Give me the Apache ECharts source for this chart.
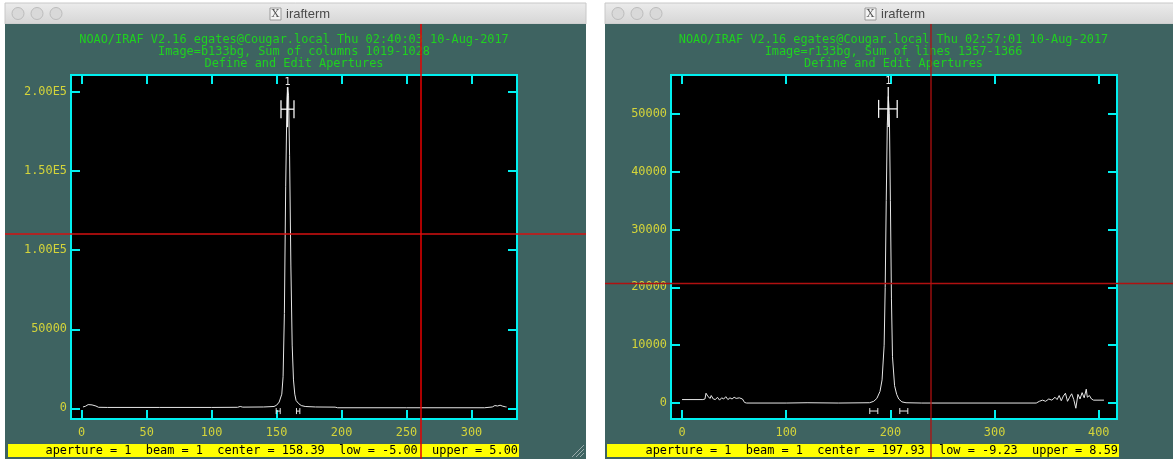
<!DOCTYPE html>
<html><head><meta charset="utf-8">
<script src="https://cdn.jsdelivr.net/npm/echarts@6/dist/echarts.min.js"></script>
<style>html,body{margin:0;padding:0;background:#fff}#c{width:1173px;height:459px}</style>
</head><body><div id="c"></div>
<script>
// ---------- data ----------
const leftX = [1,3,5,6,8,9,11,13,20,60,100,120,122,124,140,148,150,152,154,155,156,157,158,158.6,159.2,160,161,162,163,164,165,167,169,172,180,195,197,250,310,316,318,320,322,324,326,327];
const leftY = [900,1400,2400,2700,2200,2900,1500,700,600,600,600,700,1200,800,900,1200,2000,4000,9000,20000,60000,140000,195000,203000,198000,160000,90000,40000,18000,9000,5000,3000,1800,1200,900,800,400,400,400,900,1800,1500,2000,1400,1000,900];
const rightX = [0,20,22,23,25,27,28,30,32,34,36,38,40,42,44,46,48,50,52,55,58,60,62,100,120,150,180,184,187,190,192,194,195,196,197,198,199,200,201,202,204,206,208,211,215,230,340,343,346,349,352,355,358,360,362,364,366,368,370,372,374,376,378,380,382,384,386,388,389,391,393,395,405];
const rightY = [600,600,700,1700,1100,800,1300,700,600,1000,500,900,700,1100,600,900,700,1000,800,900,700,100,0,0,50,0,50,300,800,2000,4000,10000,20000,35000,48000,53000,50000,35000,18000,8000,3000,1500,700,200,50,0,0,300,500,300,700,500,1000,600,1300,400,1200,1700,300,1000,1600,600,-900,1500,700,1800,900,2400,1000,1300,700,500,500];

const leftXTicks = [0,50,100,150,200,250,300];
const leftYTicks = [0,50000,100000,150000,200000];
const leftYLabels = ['0','50000','1.00E5','1.50E5','2.00E5'];
const rightXTicks = [0,100,200,300,400];
const rightYTicks = [0,10000,20000,30000,40000,50000];
const rightYLabels = ['0','10000','20000','30000','40000','50000'];

// apertures: [center, low, upper]
const leftAperture = [158.39, -5.00, 5.00];
const rightAperture = [197.93, -9.23, 8.59];
// background sample regions
const leftBackground = [[149.7, 152.8], [165.3, 167.9]];
const rightBackground = [[180.2, 187.9], [209.0, 216.7]];

const leftTitles = ['NOAO/IRAF V2.16 egates@Cougar.local Thu 02:40:03 10-Aug-2017',
                    'Image=b133bg, Sum of columns 1019-1028',
                    'Define and Edit Apertures'];
const rightTitles = ['NOAO/IRAF V2.16 egates@Cougar.local Thu 02:57:01 10-Aug-2017',
                     'Image=r133bg, Sum of lines 1357-1366',
                     'Define and Edit Apertures'];
const leftStatus = 'aperture = 1  beam = 1  center = 158.39  low = -5.00  upper = 5.00';
const rightStatus = 'aperture = 1  beam = 1  center = 197.93  low = -9.23  upper = 8.59';

// ---------- style ----------
const MONO = "'DejaVu Sans Mono', 'Liberation Mono', monospace";
const TEAL = '#3e6361';
const CYAN = '#00f0f0';
const YEL = '#d4d43a';
const GREEN = '#1fd21f';
const FS = 11.9;

const chart = echarts.init(document.getElementById('c'), null, {renderer: 'canvas'});

function axisPair(gi, xr, yr, xt, yt, yl) {
  const tick = {show: true, inside: true, length: 9, lineStyle: {color: CYAN, width: 2}};
  const line = {show: false, onZero: false};
  return {
    x: [
      {gridIndex: gi, type: 'value', min: xr[0], max: xr[1], position: 'bottom',
       axisLine: line, splitLine: {show: false},
       axisTick: Object.assign({customValues: xt}, tick),
       axisLabel: {customValues: xt, color: YEL, fontFamily: MONO, fontSize: FS, margin: 8}},
      {gridIndex: gi, type: 'value', min: xr[0], max: xr[1], position: 'top',
       axisLine: line, splitLine: {show: false},
       axisTick: Object.assign({customValues: xt}, tick), axisLabel: {show: false}}
    ],
    y: [
      {gridIndex: gi, type: 'value', min: yr[0], max: yr[1], position: 'left',
       axisLine: line, splitLine: {show: false},
       axisTick: Object.assign({customValues: yt}, tick),
       axisLabel: {customValues: yt, color: YEL, fontFamily: MONO, fontSize: FS, margin: 4,
                   formatter: v => yl[yt.indexOf(v)] ?? ''}},
      {gridIndex: gi, type: 'value', min: yr[0], max: yr[1], position: 'right',
       axisLine: line, splitLine: {show: false},
       axisTick: Object.assign({customValues: yt}, tick), axisLabel: {show: false}}
    ]
  };
}

const L = axisPair(0, [-8.2, 335], [-6700, 210700], leftXTicks, leftYTicks, leftYLabels);
const R = axisPair(1, [-10.6, 417.5], [-2760, 56720], rightXTicks, rightYTicks, rightYLabels);

function apertureSeries(xi, yi, ap, barY) {
  return {
    type: 'custom', xAxisIndex: xi, yAxisIndex: yi, z: 5, clip: false,
    data: [ap],
    renderItem: (params, api) => {
      const c = api.value(0), lo = api.value(1), up = api.value(2);
      const p = api.coord([c, barY]);
      const pl = api.coord([c + lo, barY]);
      const pu = api.coord([c + up, barY]);
      const st = {stroke: '#f4f4f4', lineWidth: 1.3};
      return {type: 'group', children: [
        {type: 'line', shape: {x1: p[0], y1: p[1] - 22, x2: p[0], y2: p[1] + 18}, style: st},
        {type: 'line', shape: {x1: pl[0], y1: p[1], x2: pu[0], y2: p[1]}, style: st},
        {type: 'line', shape: {x1: pl[0], y1: p[1] - 9, x2: pl[0], y2: p[1] + 9}, style: st},
        {type: 'line', shape: {x1: pu[0], y1: p[1] - 9, x2: pu[0], y2: p[1] + 9}, style: st},
        {type: 'text', x: p[0], y: p[1] - 22, style: {text: '1', fill: '#e8e8e8', font: '10px ' + MONO, textAlign: 'center', textVerticalAlign: 'bottom'}}
      ]};
    }
  };
}
function bgSeries(xi, yi, regions, y) {
  return {
    type: 'custom', xAxisIndex: xi, yAxisIndex: yi, z: 5, clip: false,
    data: regions,
    renderItem: (params, api) => {
      const a = api.coord([api.value(0), y]);
      const b = api.coord([api.value(1), y]);
      const st = {stroke: '#e8e8e8', lineWidth: 1};
      return {type: 'group', children: [
        {type: 'line', shape: {x1: a[0], y1: a[1], x2: b[0], y2: b[1]}, style: st},
        {type: 'line', shape: {x1: a[0], y1: a[1] - 3, x2: a[0], y2: a[1] + 3}, style: st},
        {type: 'line', shape: {x1: b[0], y1: b[1] - 3, x2: b[0], y2: b[1] + 3}, style: st}
      ]};
    }
  };
}

function windowChrome(x0, x1, cx) {
  const els = [];
  els.push({type: 'rect', shape: {x: x0, y: 3, width: x1 - x0, height: 21},
    style: {fill: new echarts.graphic.LinearGradient(0, 0, 0, 1, [{offset: 0, color: '#ececec'}, {offset: 1, color: '#d5d5d5'}]), stroke: '#c8c8c8', lineWidth: 1}, z: -100});
  els.push({type: 'rect', shape: {x: x0, y: 24, width: x1 - x0, height: 440}, style: {fill: TEAL}, z: -100});
  [13, 32, 51].forEach(dx => els.push({type: 'circle', shape: {cx: x0 + dx, cy: 13.5, r: 6},
    style: {fill: '#d9d9d9', stroke: '#bcbcbc', lineWidth: 1}, z: -99}));
  // X icon
  els.push({type: 'rect', shape: {x: cx - 30, y: 8, width: 11, height: 12}, style: {fill: '#f4f4f4', stroke: '#9a9a9a', lineWidth: 1}, z: -99});
  els.push({type: 'text', x: cx - 24.5, y: 14.5, style: {text: 'X', fill: '#555', font: '11px "DejaVu Serif", serif', textAlign: 'center', textVerticalAlign: 'middle'}, z: -98});
  els.push({type: 'text', x: cx - 14, y: 14, style: {text: 'irafterm', fill: '#4a4a4a', font: '13px "Liberation Sans", Arial, sans-serif', textAlign: 'left', textVerticalAlign: 'middle'}, z: -98});
  return els;
}
function titleLines(lines, cx) {
  return lines.map((t, i) => ({type: 'text', x: cx, y: 40 + i * 12.2, z: 10,
    style: {text: t, fill: GREEN, font: FS + 'px ' + MONO, textAlign: 'center', textVerticalAlign: 'middle'}}));
}
function statusBar(x0, x1, text) {
  return [
    {type: 'rect', shape: {x: x0, y: 444, width: x1 - x0, height: 13}, style: {fill: '#ffff00'}, z: 10},
    {type: 'text', x: x1 - 1, y: 451, z: 11, style: {text: text, fill: '#000', font: FS + 'px ' + MONO, textAlign: 'right', textVerticalAlign: 'middle'}}
  ];
}

const graphics = [].concat(
  windowChrome(5, 586, 300),
  windowChrome(605, 1185, 895),
  titleLines(leftTitles, 294),
  titleLines(rightTitles, 893.5),
  statusBar(8, 519, leftStatus),
  statusBar(607, 1119, rightStatus),
  [
    // resize grip
    {type: 'line', shape: {x1: 572, y1: 457, x2: 584, y2: 445}, style: {stroke: '#9aa', lineWidth: 1}, z: 12},
    {type: 'line', shape: {x1: 576, y1: 457, x2: 584, y2: 449}, style: {stroke: '#9aa', lineWidth: 1}, z: 12},
    {type: 'line', shape: {x1: 580, y1: 457, x2: 584, y2: 453}, style: {stroke: '#9aa', lineWidth: 1}, z: 12},
    // cursor crosshairs
    {type: 'line', shape: {x1: 421, y1: 24, x2: 421, y2: 459}, style: {stroke: '#e80000', lineWidth: 1.5}, z: 50},
    {type: 'line', shape: {x1: 5, y1: 234, x2: 586, y2: 234}, style: {stroke: '#d41010', lineWidth: 1.5}, z: 50},
    {type: 'line', shape: {x1: 931, y1: 24, x2: 931, y2: 459}, style: {stroke: '#b01010', lineWidth: 1.3}, z: 50},
    {type: 'line', shape: {x1: 605, y1: 283.5, x2: 1173, y2: 283.5}, style: {stroke: '#b01010', lineWidth: 1.3}, z: 50}
  ]
);

chart.setOption({
  backgroundColor: '#ffffff',
  animation: false,
  grid: [
    {left: 71, top: 75, width: 446, height: 344, show: true, backgroundColor: '#000', borderColor: CYAN, borderWidth: 2},
    {left: 671, top: 75, width: 446, height: 344, show: true, backgroundColor: '#000', borderColor: CYAN, borderWidth: 2}
  ],
  xAxis: L.x.concat(R.x),
  yAxis: L.y.concat(R.y),
  series: [
    {type: 'line', xAxisIndex: 0, yAxisIndex: 0, showSymbol: false, z: 4,
     lineStyle: {color: '#e6e6e6', width: 1}, data: leftX.map((x, i) => [x, leftY[i]])},
    {type: 'line', xAxisIndex: 2, yAxisIndex: 2, showSymbol: false, z: 4,
     lineStyle: {color: '#e6e6e6', width: 1}, data: rightX.map((x, i) => [x, rightY[i]])},
    apertureSeries(0, 0, leftAperture, 189100),
    apertureSeries(2, 2, rightAperture, 50860),
    bgSeries(0, 0, leftBackground, -1700),
    bgSeries(2, 2, rightBackground, -1380)
  ],
  graphic: graphics
});
</script>
</body></html>
